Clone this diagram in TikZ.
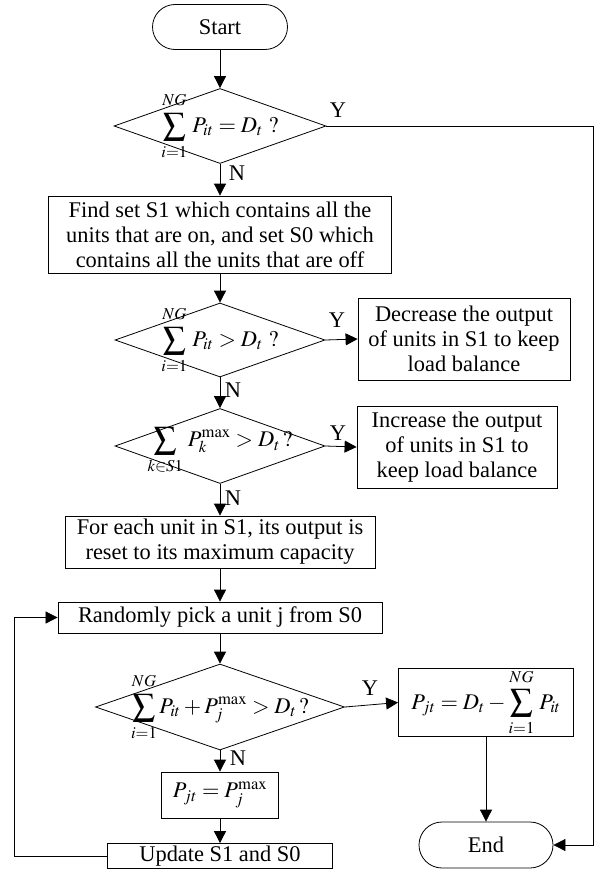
\documentclass[tikz,border=0pt]{standalone}
\usepackage{amsmath}
\usepackage{mathptmx}
\usepackage{fontspec}
\setmainfont{Liberation Serif}
\usetikzlibrary{arrows.meta,shapes.geometric,shapes.misc}
\newcommand{\sumlim}[2]{\sum\limits_{\lower3bp\hbox{$\scriptstyle #1$}}^{\raise3bp\hbox{$\scriptstyle #2$}}}

\begin{document}
\begin{tikzpicture}[x=1bp,y=-1bp,>={Triangle[length=12bp,width=12bp]},line width=0.8bp,
every node/.style={font=\fontsize{22.5}{25}\selectfont},
box/.style={draw,rectangle,inner sep=0pt,align=center},
dec/.style={draw,diamond,inner sep=0pt},
term/.style={draw,rounded rectangle,inner sep=0pt}]
\useasboundingbox (0,0) rectangle (595,869);
\node[term,minimum width=135bp,minimum height=45bp](start) at (220,27) {Start};
\node[dec,minimum width=212bp,minimum height=75bp](d1) at (220,126) {};
\node(d1t) at (d1) {$\displaystyle\sumlim{i=1}{NG}\, P_{it} = D_t\ ?$};
\node[box,minimum width=343bp,minimum height=77bp](find) at (220,234.5)
{Find set S1 which contains all the\\units that are on, and set S0 which\\contains all the units that are off};
\node[dec,minimum width=210bp,minimum height=74bp](d2) at (220,340) {};
\node(d2t) at (d2) {$\displaystyle\sumlim{i=1}{NG}\, P_{it} > D_t\ ?$};
\node[box,minimum width=212bp,minimum height=82bp](dec) at (464,339)
{Decrease the output\\of units in S1 to keep\\load balance};
\node[dec,minimum width=210bp,minimum height=75bp](d3) at (220,446) {};
\node(d3t) at (d3) {$\displaystyle\sumlim{k\in S1}{}\, P_k^{\mathrm{max}} > D_t\,?$};
\node[box,minimum width=200bp,minimum height=82bp](inc) at (457,447)
{Increase the output\\of units in S1 to\\keep load balance};
\node[box,minimum width=310bp,minimum height=52bp](each) at (220,542)
{For each unit in S1, its output is\\reset to its maximum capacity};
\node[box,minimum width=324bp,minimum height=31bp](rand) at (220,617.5)
{Randomly pick a unit j from S0};
\node[dec,minimum width=249bp,minimum height=86bp](d4) at (220,707) {};
\node(d4t) at (d4) {$\displaystyle\sumlim{i=1}{NG} P_{it} + P_j^{\mathrm{max}} > D_t\,?$};
\node[box,minimum width=175bp,minimum height=59bp](pjt) at (486,702.5)
{$P_{jt} = D_t - \displaystyle\sumlim{i=1}{NG}\, P_{it}$};
\node[box,minimum width=117bp,minimum height=46bp](pmax) at (220,795)
{$P_{jt} = P_j^{\mathrm{max}}$};
\node[box,minimum width=225bp,minimum height=25bp](upd) at (220,856) {Update S1 and S0};
\node[term,minimum width=134bp,minimum height=46bp](end) at (486,845) {End};
\node(y1) at (338,110) {Y};
\node(y2) at (337,320) {Y};
\node(y3) at (338,433) {Y};
\node(y4) at (370,688) {Y};
\node(n1) at (237,173) {N};
\node(n2) at (233,390) {N};
\node(n3) at (233,498) {N};
\node(n4) at (238,758) {N};
\coordinate (edge) at (593,0);
\coordinate (back) at (14,0);
\draw[->](start.south)--(d1.north);
\draw[->](d1.south)--(find.north);
\draw[->](find.south)--(d2.north);
\draw[->](d2.east)--(dec.west);
\draw[->](d2.south)--(d3.north);
\draw[->](d3.east)--(inc.west);
\draw[->](d3.south)--(each.north);
\draw[->](each.south)--(rand.north);
\draw[->](rand.south)--(d4.north);
\draw[->](d4.east)--(pjt.west);
\draw[->](d4.south)--(pmax.north);
\draw[->](pmax.south)--(upd.north);
\draw[->](pjt.south)--(end.north);
\draw[->](d1.east)--(d1.east -| edge)--(end.east -| edge)--(end.east);
\draw[->](upd.west)--(upd.west -| back)--(rand.west -| back)--(rand.west);
\end{tikzpicture}
\end{document}
